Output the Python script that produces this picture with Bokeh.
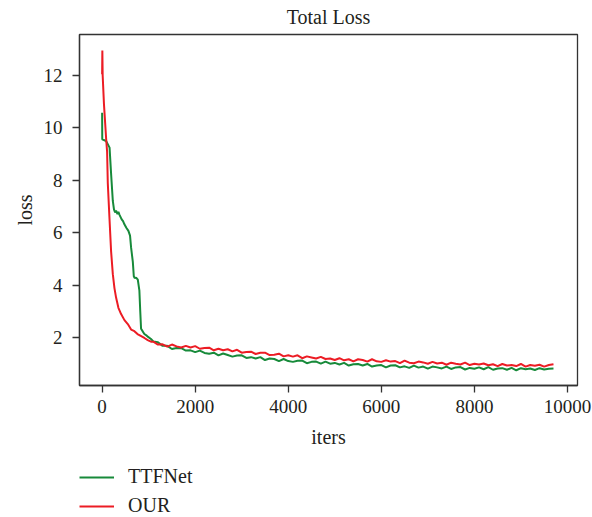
from bokeh.plotting import figure
from bokeh.models import Range1d, Legend, LegendItem, FixedTicker
from bokeh.layouts import column
from bokeh.embed import file_html
from bokeh.resources import INLINE

# ---------------- data ----------------
x_ticks = [0, 2000, 4000, 6000, 8000, 10000]
y_ticks = [2, 4, 6, 8, 10, 12]
series_names = ["TTFNet", "OUR"]

tail_iters = [1100, 1200, 1300, 1400, 1500, 1600, 1700, 1800, 1900, 2000, 2100, 2200,
              2300, 2400, 2500, 2600, 2700, 2800, 2900, 3000, 3100, 3200, 3300, 3400,
              3500, 3600, 3700, 3800, 3900, 4000, 4100, 4200, 4300, 4400, 4500, 4600,
              4700, 4800, 4900, 5000, 5100, 5200, 5300, 5400, 5500, 5600, 5700, 5800,
              5900, 6000, 6100, 6200, 6300, 6400, 6500, 6600, 6700, 6800, 6900, 7000,
              7100, 7200, 7300, 7400, 7500, 7600, 7700, 7800, 7900, 8000, 8100, 8200,
              8300, 8400, 8500, 8600, 8700, 8800, 8900, 9000, 9100, 9200, 9300, 9400,
              9500, 9600, 9700]

ttfnet_iters = [0, 3, 86, 160, 195, 230, 255, 279, 300, 330, 350, 372, 420, 450, 479,
                520, 565, 600, 623, 660, 681, 700, 730, 767, 801, 820, 837, 870, 908,
                950, 981, 1050] + tail_iters
ttfnet_loss = [10.58, 9.57, 9.50, 9.25, 8.20, 7.22, 6.90, 6.78, 6.85, 6.72, 6.80, 6.70,
               6.52, 6.45, 6.33, 6.20, 6.08, 5.90, 5.44, 4.90, 4.35, 4.28, 4.30, 4.22,
               3.80, 3.00, 2.35, 2.26, 2.15, 2.10, 2.05, 1.96,
               1.87, 1.84, 1.70, 1.70, 1.58, 1.62, 1.61, 1.52, 1.53, 1.46, 1.52, 1.43,
               1.40, 1.44, 1.34, 1.41, 1.35, 1.29, 1.33, 1.34, 1.24, 1.27, 1.22, 1.27,
               1.16, 1.22, 1.20, 1.12, 1.20, 1.12, 1.09, 1.13, 1.14, 1.04, 1.09, 1.10,
               1.02, 1.10, 1.02, 1.05, 0.99, 1.05, 0.95, 1.00, 1.01, 0.95, 1.01, 0.91,
               0.95, 0.97, 0.88, 0.95, 0.96, 0.88, 0.92, 0.86, 0.95, 0.87, 0.91, 0.83,
               0.91, 0.88, 0.84, 0.91, 0.82, 0.88, 0.89, 0.80, 0.86, 0.83, 0.88, 0.81,
               0.89, 0.79, 0.84, 0.85, 0.79, 0.86, 0.77, 0.85, 0.81, 0.84, 0.78, 0.85,
               0.80, 0.83, 0.84]

our_iters = [0, 5, 12, 40, 86, 107, 122, 157, 193, 230, 265, 300, 350, 408, 480, 552,
             623, 694, 760, 830, 908, 980, 1050] + tail_iters
our_loss = [12.05, 12.95, 12.00, 10.90, 9.60, 9.10, 7.90, 6.60, 5.30, 4.43, 3.90, 3.54,
            3.15, 2.91, 2.68, 2.53, 2.32, 2.26, 2.15, 2.08, 2.00, 1.92, 1.86,
            1.86, 1.75, 1.76, 1.67, 1.75, 1.68, 1.64, 1.70, 1.64, 1.69, 1.59, 1.62,
            1.63, 1.53, 1.59, 1.53, 1.57, 1.49, 1.55, 1.44, 1.47, 1.48, 1.39, 1.44,
            1.44, 1.35, 1.36, 1.40, 1.30, 1.34, 1.29, 1.34, 1.23, 1.30, 1.26, 1.22,
            1.28, 1.20, 1.22, 1.16, 1.23, 1.15, 1.19, 1.11, 1.19, 1.16, 1.10, 1.19,
            1.11, 1.09, 1.15, 1.10, 1.12, 1.04, 1.14, 1.06, 1.04, 1.10, 1.07, 1.02,
            1.09, 1.03, 1.06, 0.98, 1.06, 1.02, 0.99, 1.06, 0.97, 1.02, 0.99, 1.03,
            0.96, 1.00, 0.93, 1.01, 0.95, 0.97, 0.93, 1.01, 0.91, 0.97, 0.94, 0.98,
            0.91, 0.97, 1.00]

# ---------------- style ----------------
FONT = "Liberation Serif"
GREEN = "#178a3a"
RED = "#ec1c24"
AX = "#333333"
TXT = "#231f20"

p = figure(width=592, height=450, output_backend="svg", toolbar_location=None,
           x_range=Range1d(-486, 10216), y_range=Range1d(0.19, 13.56),
           min_border_left=79, min_border_right=15, min_border_top=33,
           min_border_bottom=65, title="Total Loss",
           x_axis_label="iters", y_axis_label="loss")

p.title.text_font = FONT
p.title.text_font_size = "20px"
p.title.text_font_style = "normal"
p.title.text_color = TXT
p.title.align = "center"
p.title.vertical_align = "top"
p.title.standoff = 10

p.grid.visible = False
p.outline_line_color = AX
p.outline_line_width = 1.3
p.background_fill_color = "white"
p.border_fill_color = "white"

for ax in (p.xaxis[0], p.yaxis[0]):
    ax.axis_line_color = AX
    ax.axis_line_width = 1.3
    ax.major_tick_line_color = AX
    ax.major_tick_line_width = 1.3
    ax.major_tick_out = 7
    ax.major_tick_in = 0
    ax.minor_tick_out = 0
    ax.minor_tick_in = 0
    ax.major_label_text_font = FONT
    ax.major_label_text_font_size = "19px"
    ax.major_label_text_color = TXT
    ax.axis_label_text_font = FONT
    ax.axis_label_text_font_size = "20px"
    ax.axis_label_text_font_style = "normal"
    ax.axis_label_text_color = TXT

p.xaxis[0].ticker = FixedTicker(ticks=x_ticks)
p.yaxis[0].ticker = FixedTicker(ticks=y_ticks)
p.xaxis[0].major_label_standoff = 7
p.yaxis[0].major_label_standoff = 10
p.xaxis[0].axis_label_standoff = 10
p.yaxis[0].axis_label_standoff = 5

p.line(ttfnet_iters, ttfnet_loss, line_color=GREEN, line_width=2)
p.line(our_iters, our_loss, line_color=RED, line_width=2)

# ---------------- legend strip below the plot ----------------
# the same series are drawn here but fall outside this strip's ranges (hidden);
# they only give the legend its line swatches
lg = figure(width=592, height=67, output_backend="svg", toolbar_location=None,
            x_axis_type=None, y_axis_type=None,
            min_border_left=79, min_border_right=15, min_border_top=0,
            min_border_bottom=0,
            x_range=Range1d(-3, -2), y_range=Range1d(-3, -2))
lg.grid.visible = False
lg.outline_line_color = None
lg.background_fill_color = "white"
lg.border_fill_color = "white"
g1 = lg.line(ttfnet_iters, ttfnet_loss, line_color=GREEN, line_width=2)
g2 = lg.line(our_iters, our_loss, line_color=RED, line_width=2)

legend = Legend(items=[LegendItem(label=series_names[0], renderers=[g1]),
                       LegendItem(label=series_names[1], renderers=[g2])],
                location=(0, 0), padding=0, margin=0, spacing=6,
                glyph_width=35, glyph_height=20, label_height=20,
                label_standoff=14, border_line_color=None,
                background_fill_alpha=0,
                label_text_font=FONT, label_text_font_size="20px",
                label_text_color=TXT)
lg.add_layout(legend, "center")

open("out.html", "w").write(file_html(column(p, lg, spacing=0), INLINE))
